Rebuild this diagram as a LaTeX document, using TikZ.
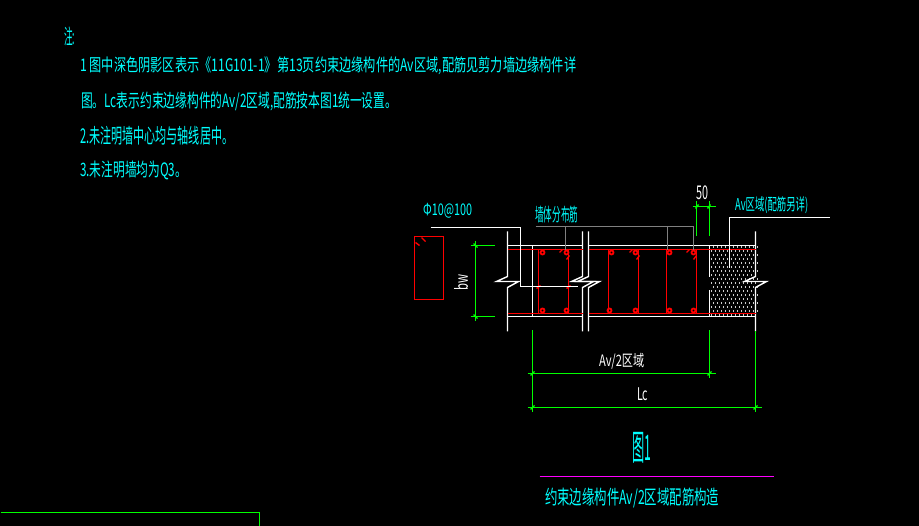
\documentclass[tikz,border=0pt]{standalone}
\usepackage{fontspec}
\usepackage{graphicx}
\newfontfamily\cjk{Noto Sans CJK SC}
\newcommand{\fitt}[3]{\resizebox*{#1pt}{#2pt}{\cjk #3}}
\definecolor{cadgreen}{RGB}{0,255,0}
\definecolor{cadcyan}{RGB}{0,255,255}
\definecolor{cadred}{RGB}{255,0,0}
\definecolor{cadgray}{RGB}{128,128,128}
\definecolor{cadpink}{RGB}{255,0,255}
\tikzset{
  note/.style={anchor=west, inner sep=0pt, text=cadcyan},
  dimtext/.style={anchor=west, inner sep=0pt, text=white},
  wall/.style={draw=white, line width=1.4pt},
  bar/.style={draw=cadred, line width=1.4pt},
  dimline/.style={draw=cadgreen, line width=1.4pt},
  leader/.style={draw=cadgray, line width=1.4pt},
}
\begin{document}
\begin{tikzpicture}[x=1pt, y=-1pt]
\useasboundingbox[fill=black] (0,0) rectangle (919,526);
% notes
\node (zhu) [note] at (64,36) {\fitt{11}{19}{注:}};
\node (line1) [note] at (80,66) {\fitt{496}{18}{1 图中深色阴影区表示《11G101-1》第13页约束边缘构件的Av区域,配筋见剪力墙边缘构件详}};
\node (line2) [note] at (81,101) {\fitt{316}{19}{图。Lc表示约束边缘构件的Av/2区域,配筋按本图1统一设置。}};
\node (line3) [note] at (80,136) {\fitt{153}{19}{2.未注明墙中心均与轴线居中。}};
\node (line4) [note] at (80,170) {\fitt{107}{19}{3.未注明墙均为Q3。}};
\begin{scope}[xshift=.5pt, yshift=-.5pt]
% stipple
\foreach \i in {0,...,17} {
  \foreach \j in {0,...,11} {
    \fill[white!80!black] ({710+\j*4-mod(\i,2)*2+2},{246+\i*4}) rectangle +(1.3,1.3);
  }
}
% wall lines
\draw[wall] (507,245) -- (582,245);
\draw[wall] (588,245) -- (755,245);
\draw[wall] (507,316) -- (582,316);
\draw[wall] (588,316) -- (755,316);
\draw[wall] (532,245) -- (532,316);
\draw[wall] (709,245) -- (709,277);
\draw[wall] (709,290) -- (709,316);
\foreach \bx in {507,582,588,755} {
  \draw[wall] (\bx,231) -- (\bx,276) -- (\bx-11,281) -- (\bx+11,281) -- (\bx,287) -- (\bx,331);
}
% bars
\draw[bar] (414,236) rectangle (443,299);
\draw[bar] (421,237) -- (425,241);
\draw[bar] (415,242) -- (419,245);
\draw[bar] (507,249) -- (582,249);
\draw[bar] (588,249) -- (755,249);
\draw[bar] (507,313) -- (582,313);
\draw[bar] (588,313) -- (755,313);
\foreach \sx in {538,568,608,638,666,696} {
  \draw[bar] (\sx,249) -- (\sx,313);
}
\foreach \cx in {542,566,611,635,669,693} {
  \draw[bar, line width=1.8pt] (\cx,252) circle (2);
}
\foreach \cx in {542,566,609,635,669,693} {
  \draw[bar, line width=1.8pt] (\cx,310) circle (2);
}
\foreach \hx in {562,632,689} {
  \draw[bar] (\hx-3,252) -- (\hx,249);
  \draw[bar] (\hx+4,259) -- (\hx+7,255);
}
\draw[bar] (536,288) -- (540,285);
\draw[bar] (566,288) -- (570,285);
% leaders
\draw[wall] (430,227) -- (520,227) -- (520,286) -- (577,286);
\draw[leader] (535,226) -- (693,226) -- (693,250);
\draw[leader] (565,226) -- (565,250);
\draw[leader] (667,226) -- (667,250);
\draw[wall] (829,217) -- (729,217) -- (729,268);
% dimensions
\draw[dimline] (475,241) -- (475,321);
\draw[dimline] (470,245) -- (494,245);
\draw[dimline] (470,316) -- (494,316);
\draw[dimline] (473,243) -- (477,247);
\draw[dimline] (473,314) -- (477,318);
\draw[dimline] (692,206) -- (715,206);
\draw[dimline] (696,201) -- (696,236);
\draw[dimline] (709,201) -- (709,236);
\draw[dimline] (695,208) -- (698,204);
\draw[dimline] (707,208) -- (710,204);
\draw[dimline] (532,330) -- (532,412);
\draw[dimline] (709,330) -- (709,378);
\draw[dimline] (755,331) -- (755,412);
\draw[dimline] (527,373) -- (715,373);
\draw[dimline] (527,407) -- (761,407);
\draw[dimline] (530,375) -- (534,371);
\draw[dimline] (707,375) -- (711,371);
\draw[dimline] (530,409) -- (534,405);
\draw[dimline] (753,409) -- (757,405);
\draw[draw=cadpink, line width=1.4pt] (539,476) -- (773,476);
% frame corner
\draw[dimline] (0,512) -- (259,512) -- (259,526);
\end{scope}
% labels
\node (bartext) [note] at (423,211) {\fitt{49}{15}{Φ10@100}};
\node (walltext) [note] at (535,214.5) {\fitt{43}{17}{墙体分布筋}};
\node (zonetext) [note] at (735,205.5) {\fitt{73}{17}{Av区域(配筋另详)}};
\node (fifty) [dimtext] at (696,193) {\fitt{12}{14}{50}};
\node (bw) [dimtext, rotate=90] at (461,291) {\fitt{16}{14}{bw}};
\node (halftext) [dimtext] at (599,361) {\fitt{45}{16}{Av/2区域}};
\node (lc) [dimtext] at (637,394.5) {\fitt{11}{13}{Lc}};
\node (fig) [note] at (632,447.5) {\fitt{19}{31}{图1}};
\node (caption) [note] at (545,497.5) {\fitt{174}{20}{约束边缘构件Av/2区域配筋构造}};
\end{tikzpicture}
\end{document}
